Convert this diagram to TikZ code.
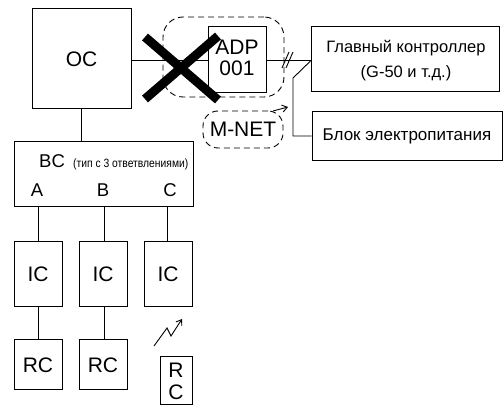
\documentclass[tikz,border=0pt]{standalone}
\usepackage{fontspec}
\setmainfont{Liberation Sans}
\usetikzlibrary{arrows.meta}
\begin{document}
\begin{tikzpicture}[x=1pt,y=-1pt,
  box/.style={draw, line width=1pt, inner sep=0pt},
  big/.style={font=\fontsize{21}{21}\selectfont},
  mid/.style={font=\fontsize{18.5}{18.5}\selectfont},
  ru/.style={font=\fontsize{16.5}{16.5}\selectfont},
  rus/.style={font=\fontsize{17}{17}\selectfont},
  ln/.style={line width=0.9pt},
  dsh/.style={draw, line width=0.9pt, dash pattern=on 6pt off 4pt},
  xline/.style={line width=9pt, line cap=butt},
  tip/.style={-{Straight Barb[length=5pt,width=7pt]}, line width=0.9pt}]
\useasboundingbox (0,0) rectangle (504,406);

% boxes
\node[box, big, minimum width=99pt, minimum height=100pt] (oc) at (81.5,59) {OC};
\node[box, minimum width=58pt, minimum height=66pt] (adp) at (237,60) {};
\node[big, inner sep=0pt] (adpt) at (237,47) {ADP};
\node[big, inner sep=0pt] (adpn) at (237,68.5) {001};
\node[box, minimum width=188pt, minimum height=65pt] (main) at (405,59.5) {};
\node[ru, inner sep=0pt] (maint) at (406,48) {Главный контроллер};
\node[ru, inner sep=0pt] (mainn) at (406,73) {(G-50 и т.д.)};
\node[box, rus, minimum width=190pt, minimum height=49pt] (pwr) at (407,136.5) {Блок электропитания};

\node[box, minimum width=179pt, minimum height=65pt] (bc) at (103.5,174.5) {};
\node[mid, anchor=base west, inner sep=0pt] (bct) at (39,168) {BC};
\node[anchor=base west, inner sep=0pt] (bcs) at (73,168)
  {\scalebox{0.86}[1]{\fontsize{12}{12}\selectfont (тип с 3 ответвлениями)}};
\node[mid, anchor=base, inner sep=0pt] (la) at (37,197) {A};
\node[mid, anchor=base, inner sep=0pt] (lb) at (103,197) {B};
\node[mid, anchor=base, inner sep=0pt] (lc) at (170,197) {C};

\node[box, big, minimum width=48pt, minimum height=65pt] (ic1) at (38,274.5) {IC};
\node[box, big, minimum width=48pt, minimum height=65pt] (ic2) at (103,274.5) {IC};
\node[box, big, minimum width=48pt, minimum height=65pt] (ic3) at (168,274.5) {IC};
\node[box, big, minimum width=48pt, minimum height=50pt] (rc1) at (38,365) {RC};
\node[box, big, minimum width=48pt, minimum height=50pt] (rc2) at (103,365) {RC};
\node[box, minimum width=32pt, minimum height=48pt] (rc3) at (176,381) {};
\node[big, inner sep=0pt] (rc3r) at (176,370) {R};
\node[big, inner sep=0pt] (rc3c) at (176,392) {C};

% dashed groups
\node[dsh, rounded corners=20pt, minimum width=121pt, minimum height=80pt] (grp) at (223.5,57) {};
\node[dsh, big, rounded corners=15pt, minimum width=80pt, minimum height=37pt, inner sep=0pt] (mnet) at (243,129.5) {M-NET};

% connectors
\draw[ln] (oc.east |- adp.west) -- (adp.west);
\draw[ln] (adp.east) -- (main.west |- adp.east);
\draw[ln] (main.west |- 0,61) -- (293,78) -- (293,136) -- (pwr.west |- 0,136);
\draw[ln] (oc.south) -- (oc.south |- bc.north);
\draw[ln] (ic1.north) -- (ic1.north |- bc.south);
\draw[ln] (104,241.5) -- (104,207.5);
\draw[ln] (167,241.5) -- (167,207.5);
\draw[ln] (ic1.south) -- (rc1.north);
\draw[ln] (104,307.5) -- (104,339.5);

% double slash
\coordinate (s1a) at (282,68); \coordinate (s1b) at (289,52);
\coordinate (s2a) at (286,68); \coordinate (s2b) at (293,52);
\draw[ln] (s1a) -- (s1b);
\draw[ln] (s2a) -- (s2b);

% M-NET arrow
\coordinate (ma) at (273,111);
\coordinate (mb) at (288,107);
\draw[tip] (ma) -- (mb);

% wireless
\coordinate (w1) at (154,346);
\coordinate (w2) at (167,328);
\coordinate (w3) at (171,336);
\coordinate (w4) at (182,319);
\draw[tip] (w1) -- (w2) -- (w3) -- (w4);

% cross
\coordinate (x1) at (145,37); \coordinate (x2) at (218,100);
\coordinate (x3) at (218,36); \coordinate (x4) at (145,99);
\draw[xline] (x1) -- (x2);
\draw[xline] (x3) -- (x4);
\end{tikzpicture}
\end{document}
